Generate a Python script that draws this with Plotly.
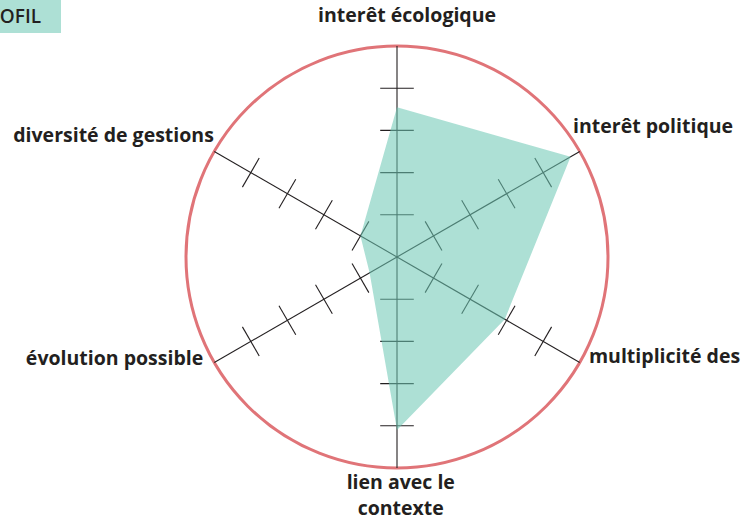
import plotly.graph_objects as go

# Data
categories = ["interêt écologique", "interêt politique", "multiplicité des",
              "lien avec le<br>contexte", "évolution possible", "diversité de gestions"]
values = [3.55, 4.75, 2.95, 4.1, 0.75, 1.0]
tick_levels = [1, 2, 3, 4]
scale_max = 5
title_text = "PROFIL"

# layout of the axis labels: (radius, clockwise angle from top, anchoring)
label_r = [5.69, 5.17, 5.14, 5.69, 5.20, 5.19]
label_theta = [2.4, 53.8, 117.75, 179.1, 242.0, 303.25]
label_pos = ["middle center", "middle right", "middle right",
             "middle center", "middle left", "middle left"]

W, H = 746, 522
cx, cy, R = 397, 257, 211          # centre and radius (px) of the scale circle
r_view = 6.05                      # radial range shown
Rv = R * r_view / scale_max

n = len(categories)
axis_theta = [i * 360.0 / n for i in range(n)]

fig = go.Figure()

# spokes
s_r, s_t = [], []
for a in axis_theta:
    s_r += [0, scale_max, None]
    s_t += [a, a, None]
fig.add_trace(go.Scatterpolar(
    r=s_r, theta=s_t, mode="lines",
    line=dict(color="#231f20", width=1.1),
    hoverinfo="skip", showlegend=False))

# tick marks on every spoke
t_r, t_theta = [], []
for a in axis_theta:
    for lv in tick_levels:
        t_r.append(lv)
        t_theta.append(a)
fig.add_trace(go.Scatterpolar(
    r=t_r, theta=t_theta, mode="markers",
    marker=dict(symbol="line-ew", size=24, angle=t_theta,
                line=dict(width=1.1, color="#231f20"), color="#231f20"),
    hoverinfo="skip", showlegend=False))

# profile polygon
fig.add_trace(go.Scatterpolar(
    r=values + values[:1], theta=axis_theta + axis_theta[:1],
    mode="lines", fill="toself",
    fillcolor="rgba(108,200,180,0.56)",
    line=dict(width=0, color="rgba(0,0,0,0)"),
    hoverinfo="skip", showlegend=False))

# axis labels
fig.add_trace(go.Scatterpolar(
    r=label_r, theta=label_theta, mode="text",
    text=categories, textposition=label_pos,
    textfont=dict(family="Open Sans", size=19.5, color="#231f20", weight="bold"),
    cliponaxis=False, hoverinfo="skip", showlegend=False))

fig.update_layout(
    width=W, height=H,
    margin=dict(l=0, r=0, t=0, b=0),
    paper_bgcolor="white",
    showlegend=False,
    polar=dict(
        domain=dict(x=[(cx - Rv) / W, (cx + Rv) / W],
                    y=[(H - cy - Rv) / H, (H - cy + Rv) / H]),
        bgcolor="rgba(0,0,0,0)",
        radialaxis=dict(visible=True, range=[0, r_view], showline=False,
                        ticks="", showticklabels=False,
                        tickvals=[scale_max], showgrid=True,
                        gridcolor="#e07478", gridwidth=2.5),
        angularaxis=dict(
            type="linear", thetaunit="degrees",
            direction="clockwise", rotation=90,
            showline=False, showgrid=False, ticks="", showticklabels=False,
        ),
    ),
)

# title tab at top-left
fig.add_shape(type="rect", xref="paper", yref="paper",
              x0=0, x1=61 / W, y0=1 - 33 / H, y1=1,
              fillcolor="#ade0d5", line=dict(width=0), layer="below")
fig.add_annotation(text=title_text, xref="paper", yref="paper",
                   x=43 / W, y=1 - 16 / H, xanchor="right", yanchor="middle",
                   showarrow=False,
                   font=dict(family="Open Sans", size=19, color="#231f20", weight=600))

fig.write_html("out.html", config={"displayModeBar": False},
               post_script="document.body.style.margin='0px';document.body.style.overflow='hidden';")
